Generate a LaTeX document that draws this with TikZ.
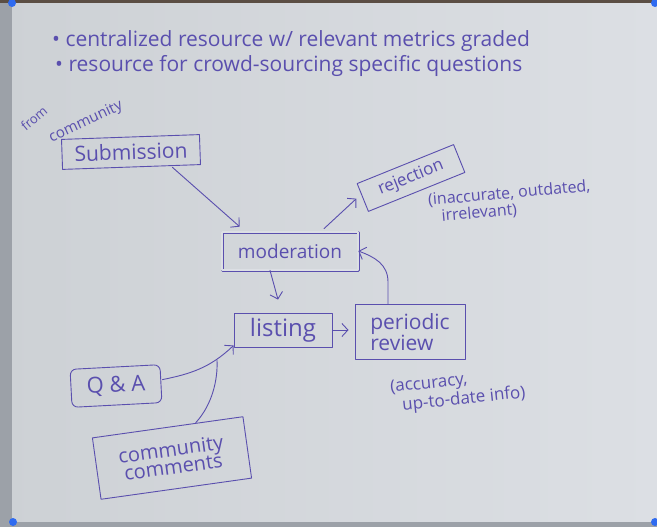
\documentclass[tikz,border=0pt]{standalone}
\usepackage{fontspec}
\setmainfont{Open Sans}
\usetikzlibrary{arrows.meta,calc}
\definecolor{pen}{HTML}{5A4FAE}
\definecolor{paperL}{HTML}{CDD1D5}
\definecolor{paperR}{HTML}{DCDFE4}
\definecolor{edge}{HTML}{9CA1A8}
\definecolor{rim}{HTML}{5B4E44}
\definecolor{handle}{HTML}{2F6BF0}
\tikzset{
  ink/.style={draw=pen, line width=0.9pt, line cap=round, line join=round},
  box/.style={ink, rectangle, inner sep=0pt, text=pen, align=center},
  note/.style={text=pen, inner sep=0pt, align=left},
  flow/.style={ink, -{Straight Barb[length=6pt,width=13pt,line width=0.9pt]}},
}
\newcommand{\fs}[1]{\fontsize{#1}{#1}\selectfont}
\begin{document}
\begin{tikzpicture}[x=1pt,y=-1pt]
\useasboundingbox (0,0) rectangle (657,527);
% paper
\shade[left color=paperL, right color=paperR] (0,0) rectangle (657,527);
\fill[edge] (0,0) rectangle (12,527);
\fill[edge] (0,522) rectangle (657,527);
\fill[rim] (0,0) rectangle (657,3);
\fill[handle] (12,3) circle (4);
\fill[handle] (655,3) circle (4);
\fill[handle] (13,522) circle (4);
\fill[handle] (655,522) circle (4);

% header notes
\node[note, anchor=west, font=\fs{21}] (b1) at (52,41) {• centralized resource w/ relevant metrics graded};
\node[note, anchor=west, font=\fs{21}] (b2) at (55,66) {• resource for crowd-sourcing specific questions};

% boxes
\node[box, minimum width=138pt, minimum height=30pt, rotate=2, font=\fs{21}] (sub) at (131,152) {Submission};
\node[note, rotate=40, font=\fs{13}] (from) at (34,118) {from};
\node[note, rotate=25, font=\fs{15}] (comm) at (86,122) {community};

\node[box, minimum width=136pt, minimum height=38pt, double=paperR, double distance=1.6pt, line width=0.7pt, font=\fs{19}] (mod) at (290,251) {moderation};

\node[box, minimum width=104pt, minimum height=30pt, rotate=22, font=\fs{17}] (rej) at (411,178) {rejection};
\node[note, rotate=5, font=\fs{16}] (rejn) at (510,202) {(inaccurate, outdated,\\[1pt]\hspace*{12pt}irrelevant)};

\node[box, minimum width=98pt, minimum height=34pt, font=\fs{24}] (list) at (283,330) {listing};

\node[box, minimum width=110pt, minimum height=55pt, align=left, font=\fs{21}] (rev) at (410,332) {periodic\\[0pt]review};
\node[note, rotate=6, font=\fs{17}] (revn) at (458,391) {(accuracy,\\[1pt]\hspace*{10pt}up-to-date info)};

\node[box, minimum width=90pt, minimum height=38pt, rotate=3, rounded corners=6pt, font=\fs{22}] (qa) at (116,386) {Q \& A};

\node[box, minimum width=152pt, minimum height=62pt, rotate=8, font=\fs{20}] (cc) at (172,458) {community\\[-2pt]comments};

% connectors
\draw[flow] ($(sub.south)+(41,0)$) -- ($(mod.north west)+(18,-5)$);
\draw[flow] ($(mod.north)+(34,-3)$) -- ($(rej.west)+(-6,1)$);
\draw[flow] ($(mod.south)+(-20,0)$) -- ($(list.north)+(-5,-13)$);
\draw[flow] (list.east) -- ($(rev.west)+(-6,-2)$);
\draw[flow] ($(rev.north)+(-22,0)$) -- ++(0,-22) .. controls +(0,-18) and +(16,6) .. (mod.east);
\coordinate (join) at (217,360);
\draw[flow] ($(qa.east)+(1,-4)$) .. controls (190,374) and (210,368) .. ($(list.south west)+(0,-2)$);
\draw[ink] ($(cc.north)+(28,-4)$) .. controls (212,405) and (218,380) .. (join);
\end{tikzpicture}
\end{document}
